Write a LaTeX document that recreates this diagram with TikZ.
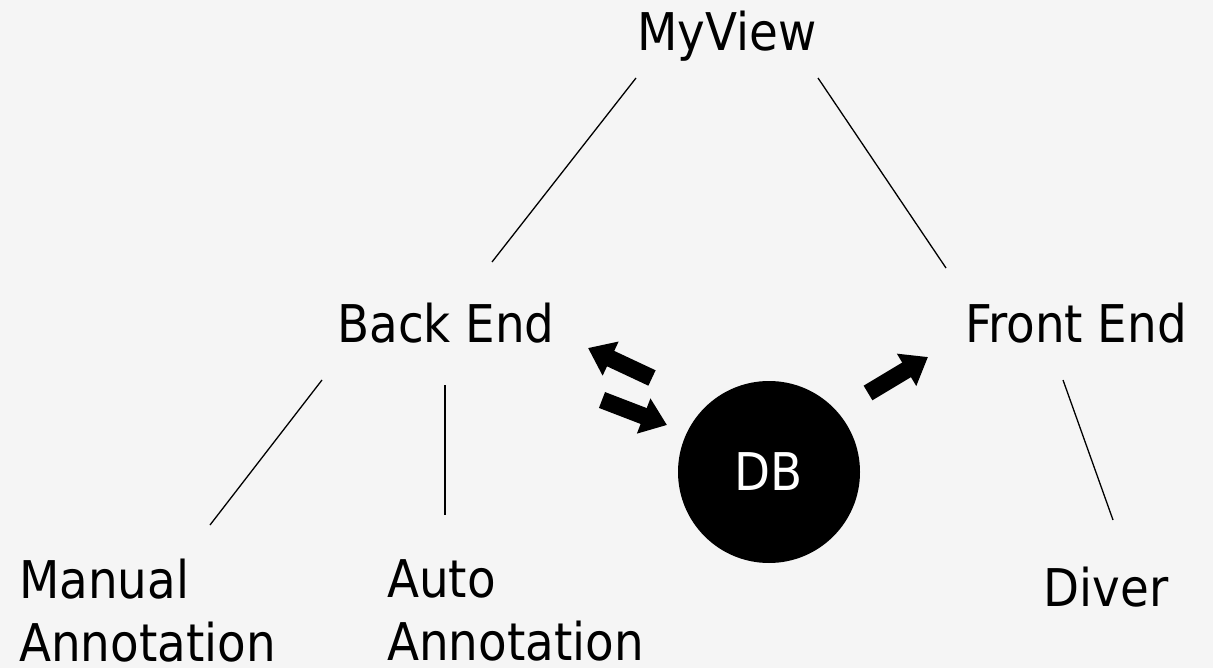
\documentclass[tikz,border=0pt]{standalone}
\usepackage{fontspec}
\setmainfont{DejaVu Sans Condensed}
\usetikzlibrary{arrows.meta}
\definecolor{bggray}{RGB}{245,245,245}
\begin{document}
\begin{tikzpicture}[x=1pt,y=-1pt]
	\tikzstyle{every node}+=[inner sep=0pt, font=\fontsize{52}{63}\selectfont]
	\tikzstyle{link}=[black, line width=1.3pt]
	\tikzstyle{flow}=[black, line width=17pt, -{Triangle[length=25pt,width=36pt]}]
	\fill [bggray] (0,0) rectangle (1213,668);
	\useasboundingbox (0,0) rectangle (1213,668);
	\node [anchor=base] (myview) at (727,51) {MyView};
	\node [anchor=base] (backend) at (446,343) {Back End};
	\node [anchor=base] (frontend) at (1076,343) {Front End};
	\node [anchor=north west, align=left] (manual) at (19,559) {Manual\\Annotation};
	\node [anchor=north west, align=left] (auto) at (387,559) {Auto\\Annotation};
	\node [anchor=base] (diver) at (1106,606) {Diver};
	\node [circle, fill=black, minimum size=182pt, text=white] (db) at (769,472) {DB};
	% tree
	\draw [link] ([shift={(-91,27)}]myview.base) -- ([shift={(46,-81)}]backend.base);
	\draw [link] ([shift={(91,27)}]myview.base) -- ([shift={(-130,-75)}]frontend.base);
	\draw [link] ([shift={(-124,37)}]backend.base) -- ([shift={(191,-34)}]manual.north west);
	\draw [link] ([shift={(-1,42)}]backend.base) -- ([shift={(58,-44)}]auto.north west);
	\draw [link] ([shift={(-13,37)}]frontend.base) -- ([shift={(7,-86)}]diver.base);
	% data flow
	\draw [flow] ([shift={(-117,-94)}]db.center) -- ([shift={(142,5)}]backend.base);
	\draw [flow] ([shift={(156,57)}]backend.base) -- ([shift={(-102,-47)}]db.center);
	\draw [flow] ([shift={(99,-79)}]db.center) -- ([shift={(-148,14)}]frontend.base);
\end{tikzpicture}
\end{document}
